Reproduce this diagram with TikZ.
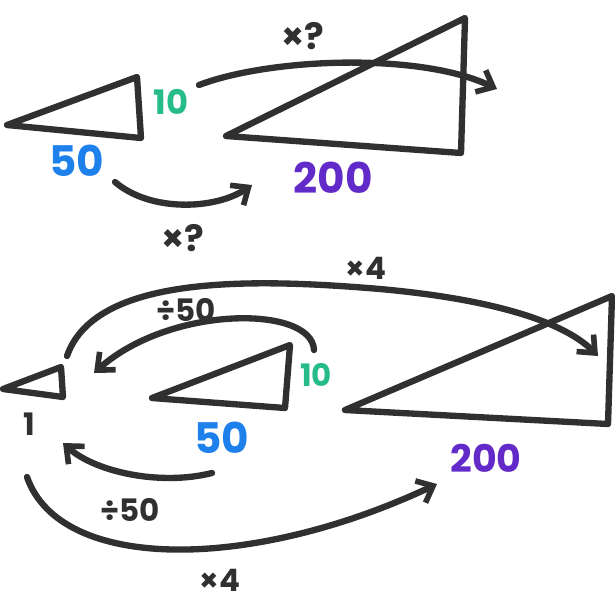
\documentclass[tikz,border=0pt]{standalone}
\usepackage{fontspec}
\setmainfont{Poppins}
\usepackage{xcolor}
\usepackage{tikz}
\usetikzlibrary{arrows.meta}
\definecolor{cInk}{RGB}{48,48,48}
\definecolor{cGreen}{RGB}{38,188,135}
\definecolor{cBlue}{RGB}{30,128,235}
\definecolor{cPurple}{RGB}{98,42,200}
\tikzset{
	tri/.style     ={draw=cInk, line width=4.5pt, line join=round, line cap=round},
	hop/.style     ={draw=cInk, line width=4.5pt, line cap=round, -{Straight Barb[length=3.5mm, width=6mm, line width=4pt]}},
	oplbl/.style   ={text=cInk, font=\bfseries\fontsize{22}{22}\selectfont, inner sep=0pt},
	sidelbl/.style ={font=\bfseries\fontsize{30}{30}\selectfont, inner sep=0pt},
	shortlbl/.style={font=\bfseries\fontsize{22}{22}\selectfont, inner sep=0pt},
}
\begin{document}
\begin{tikzpicture}[x=0.025cm, y=-0.025cm]
	\useasboundingbox (0,0) rectangle (615,601);
	% top pair
	\coordinate (aL) at (7,125); \coordinate (aT) at (137,77); \coordinate (aB) at (141,138);
	\coordinate (bL) at (226,136); \coordinate (bT) at (465,18); \coordinate (bB) at (461,153);
	\draw[tri] (aL) -- (aT) -- (aB) -- cycle;
	\draw[tri] (bL) -- (bT) -- (bB) -- cycle;
	\node[shortlbl, text=cGreen, font=\bfseries\fontsize{24}{24}\selectfont] (aSide) at (171,102) {10};
	\node[sidelbl, text=cBlue] (aBase) at (77,161) {50};
	\node[sidelbl, text=cPurple] (bBase) at (333,178) {200};
	\coordinate (topS) at (199,85); \coordinate (topE) at (497,89);
	\coordinate (lowS) at (115,182); \coordinate (lowE) at (252,185);
	\draw[hop] (topS) .. controls (270,58) and (420,52) .. (topE);
	\draw[hop] (lowS) .. controls (150,212) and (215,210) .. (lowE);
	\node[oplbl, font=\bfseries\fontsize{26}{26}\selectfont] (topOp) at (303,36) {×?};
	\node[oplbl, font=\bfseries\fontsize{26}{26}\selectfont] (lowOp) at (183,238) {×?};
	% bottom three
	\coordinate (cL) at (3,389); \coordinate (cT) at (61,367); \coordinate (cB) at (63,397);
	\coordinate (dL) at (152,398); \coordinate (dT) at (290,345); \coordinate (dB) at (285,408);
	\coordinate (eL) at (345,410); \coordinate (eT) at (612,296); \coordinate (eB) at (608,424);
	\draw[tri] (cL) -- (cT) -- (cB) -- cycle;
	\draw[tri] (dL) -- (dT) -- (dB) -- cycle;
	\draw[tri] (eL) -- (eT) -- (eB) -- cycle;
	\node[shortlbl, text=cInk] (cBase) at (29,424) {1};
	\node[shortlbl, text=cGreen] (dSide) at (316,375) {10};
	\node[sidelbl, text=cBlue] (dBase) at (222,438) {50};
	\node[sidelbl, text=cPurple, font=\bfseries\fontsize{27}{27}\selectfont] (eBase) at (486,458) {200};
	\coordinate (upS) at (67,356); \coordinate (upE) at (598,356);
	\coordinate (inS) at (314,350); \coordinate (inE) at (94,373);
	\coordinate (loS) at (212,473); \coordinate (loE) at (63,443);
	\coordinate (dnS) at (27,477); \coordinate (dnE) at (437,484);
	\draw[hop] (upS) .. controls (95,275) and (250,278) .. (380,289) .. controls (480,298) and (560,318) .. (upE);
	\draw[hop] (inS) .. controls (312,305) and (170,305) .. (inE);
	\draw[hop] (loS) .. controls (160,486) and (95,472) .. (loE);
	\draw[hop] (dnS) .. controls (60,572) and (250,572) .. (dnE);
	\node[oplbl] (upOp) at (366,268) {×4};
	\node[oplbl] (inOp) at (186,310) {÷50};
	\node[oplbl] (loOp) at (130,510) {÷50};
	\node[oplbl] (dnOp) at (220,580) {×4};
\end{tikzpicture}
\end{document}
